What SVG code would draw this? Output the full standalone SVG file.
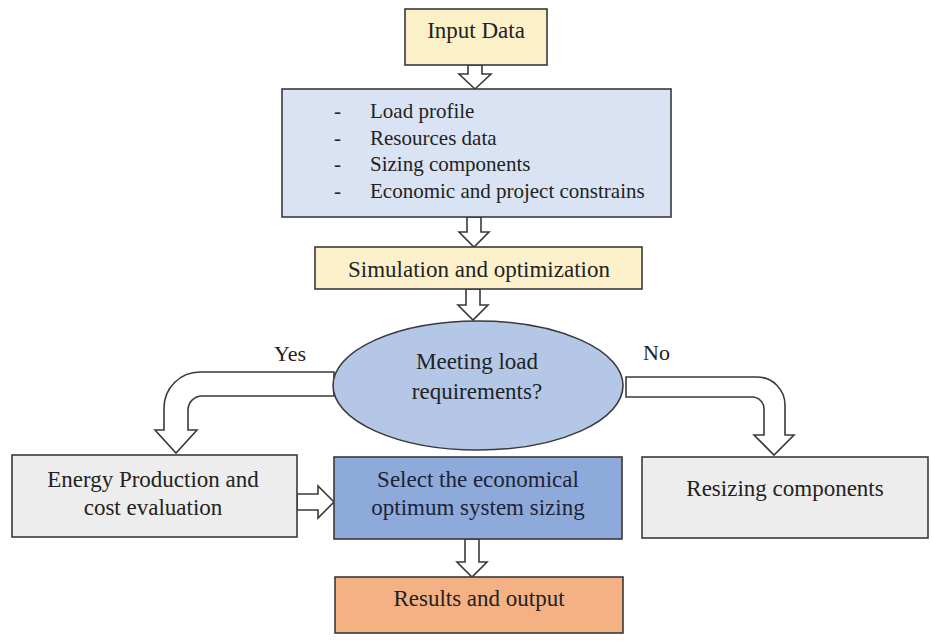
<svg xmlns="http://www.w3.org/2000/svg" width="932" height="641" viewBox="0 0 932 641">
<style>
  .box { stroke:#3a3a3a; stroke-width:1.6; }
  .t { font-family:"Liberation Serif","Times New Roman",serif; font-size:23px; fill:#222; }
  .c { text-anchor:middle; }
  .l { font-family:"Liberation Serif","Times New Roman",serif; font-size:21px; fill:#222; }
  .arr { fill:#ffffff; stroke:#3a3a3a; stroke-width:1.6; stroke-linejoin:miter; }
</style>
<rect width="932" height="641" fill="#ffffff"/>

<g id="connectors">
  <polygon class="arr" points="468,65 482,65 482,74 491,74 475,89 459,74 468,74"/>
  <polygon class="arr" points="467,217 481,217 481,232 489,232 474,247 459,232 467,232"/>
  <polygon class="arr" points="466,289 480,289 480,305 488,305 473,320 458,305 466,305"/>
  <polygon class="arr" points="465,539 479,539 479,562 487,562 472,577 457,562 465,562"/>
  <polygon class="arr" points="297,494 318,494 318,486 334,502 318,518 318,510 297,510"/>
  <path class="arr" d="M 334 372 L 200 372 A 36 36 0 0 0 164 408 L 164 430 L 155 430 L 176 453 L 197 430 L 188 430 L 188 410 A 14 14 0 0 1 202 396 L 334 396 Z"/>
  <path class="arr" d="M 626 377 L 757 377 A 28 28 0 0 1 785 405 L 785 435 L 794 435 L 774 455 L 754 435 L 764 435 L 764 409 A 12 12 0 0 0 752 397 L 626 397 Z"/>
  <text class="t c" x="290" y="361" style="font-size:22px">Yes</text>
  <text class="t" x="643" y="360" style="font-size:22px">No</text>
</g>

<g id="input-data">
  <rect class="box" x="405" y="9" width="142" height="56" fill="#fcf0c8"/>
  <text class="t c" x="476" y="38">Input Data</text>
</g>

<g id="input-list">
  <rect class="box" x="282" y="89" width="389" height="128" fill="#dae3f3"/>
  <text class="l" x="334" y="118">-</text>
  <text class="l" x="370" y="118">Load profile</text>
  <text class="l" x="334" y="145">-</text>
  <text class="l" x="370" y="145">Resources data</text>
  <text class="l" x="334" y="171">-</text>
  <text class="l" x="370" y="171">Sizing components</text>
  <text class="l" x="334" y="198">-</text>
  <text class="l" x="370" y="198">Economic and project constrains</text>
</g>

<g id="simulation">
  <rect class="box" x="315" y="247" width="327" height="42" fill="#fdf1cc"/>
  <text class="t c" x="479" y="277">Simulation and optimization</text>
</g>

<g id="decision">
  <ellipse class="box" cx="478" cy="385.5" rx="145" ry="64.5" fill="#b4c7e7"/>
  <text class="t c" x="477" y="369">Meeting load</text>
  <text class="t c" x="477" y="399">requirements?</text>
</g>

<g id="energy">
  <rect class="box" x="12" y="455" width="285" height="82" fill="#ededed"/>
  <text class="t c" x="153" y="487">Energy Production and</text>
  <text class="t c" x="153" y="515">cost evaluation</text>
</g>

<g id="select">
  <rect class="box" x="334" y="457" width="288" height="82" fill="#8eaadb"/>
  <text class="t c" x="478" y="487" style="fill:#1c2335">Select the economical</text>
  <text class="t c" x="478" y="515" style="fill:#1c2335">optimum system sizing</text>
</g>

<g id="resizing">
  <rect class="box" x="642" y="457" width="286" height="81" fill="#ededed"/>
  <text class="t c" x="785" y="496">Resizing components</text>
</g>

<g id="results">
  <rect class="box" x="335" y="577" width="288" height="56" fill="#f4b183"/>
  <text class="t c" x="479" y="606">Results and output</text>
</g>
</svg>
